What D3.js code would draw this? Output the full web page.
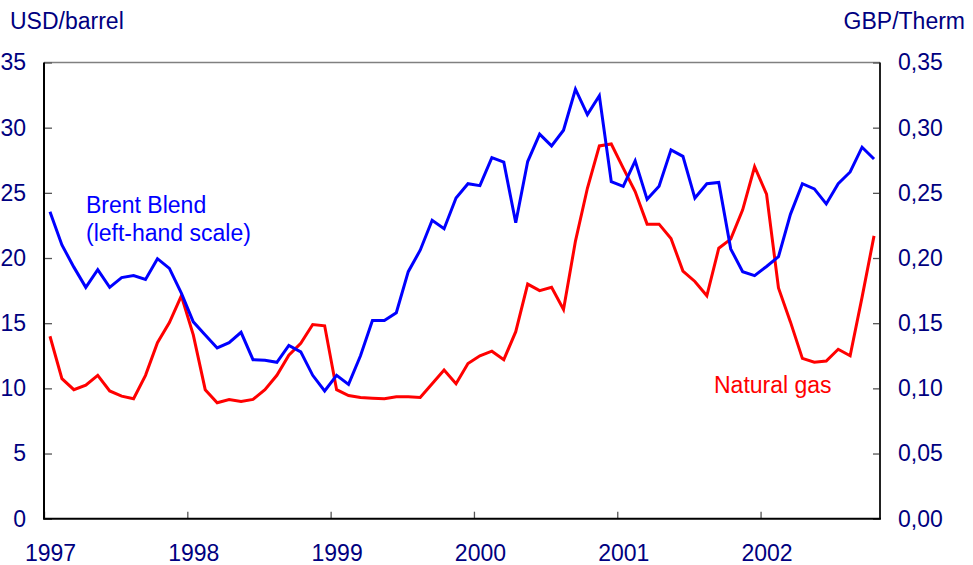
<!DOCTYPE html>
<html>
<head>
<meta charset="utf-8">
<script src="https://cdn.jsdelivr.net/npm/d3@7"></script>
<style>
  html, body { margin: 0; padding: 0; background: #fff; }
  svg { display: block; font-family: "Liberation Sans", Arial, sans-serif; }
</style>
</head>
<body>
<svg id="chart" width="973" height="565"></svg>
<script>
// Monthly averages, January 1997 – October 2002
const startYear = 1997;
const yearLabels = ["1997", "1998", "1999", "2000", "2001", "2002"];

// Brent Blend crude oil, USD per barrel (left-hand scale)
const brent = [
  23.55, 21.0, 19.3, 17.75, 19.1, 17.75, 18.5, 18.65, 18.35, 19.95, 19.2, 17.3,
  15.1, 14.1, 13.1, 13.5, 14.3, 12.2, 12.15, 12.0, 13.3, 12.8, 11.0, 9.8,
  11.0, 10.3, 12.5, 15.2, 15.2, 15.8, 18.95, 20.6, 22.9, 22.25, 24.6, 25.7,
  25.55, 27.7, 27.35, 22.7, 27.4, 29.5, 28.6, 29.8, 32.95, 31.0, 32.45, 25.85,
  25.5, 27.45, 24.5, 25.5, 28.3, 27.8, 24.6, 25.7, 25.8, 20.7, 18.95, 18.65,
  19.35, 20.1, 23.35, 25.7, 25.3, 24.15, 25.7, 26.6, 28.5, 27.6
];

// Natural gas, GBP per therm (right-hand scale)
const gas = [
  0.140, 0.1075, 0.099, 0.1025, 0.110, 0.098, 0.094, 0.092, 0.110, 0.135, 0.1505, 0.171,
  0.141, 0.099, 0.089, 0.0915, 0.090, 0.0915, 0.099, 0.110, 0.1255, 0.1345, 0.149, 0.148,
  0.099, 0.0945, 0.093, 0.0925, 0.092, 0.0935, 0.0935, 0.093, 0.1035, 0.114, 0.1035, 0.119,
  0.125, 0.1285, 0.122, 0.1435, 0.180, 0.175, 0.1775, 0.1605, 0.213, 0.2535, 0.286, 0.2875,
  0.269, 0.251, 0.226, 0.226, 0.215, 0.190, 0.182, 0.171, 0.2075, 0.2145, 0.237, 0.270,
  0.249, 0.177, 0.151, 0.123, 0.120, 0.121, 0.130, 0.125, 0.170, 0.217
];

const leftTicks = [0, 5, 10, 15, 20, 25, 30, 35];
const rightTicks = [0, 0.05, 0.10, 0.15, 0.20, 0.25, 0.30, 0.35];

const axisText = "#000080";
const fontSize = "23px";
const svg = d3.select("#chart");

const plot = { left: 44, right: 880, top: 62.5, bottom: 518.7 };
const nMonths = brent.length;

const x = d3.scaleLinear().domain([0, nMonths]).range([plot.left, plot.right]);
const yL = d3.scaleLinear().domain([0, 35]).range([plot.bottom, plot.top]);
const yR = d3.scaleLinear().domain([0, 0.35]).range([plot.bottom, plot.top]);

// Frame: grey top border, dark axes elsewhere
svg.append("line")
  .attr("x1", plot.left).attr("x2", plot.right)
  .attr("y1", plot.top).attr("y2", plot.top)
  .attr("stroke", "#808080").attr("stroke-width", 1.5);

function styleAxis(g) {
  g.select(".domain").remove();
  g.selectAll(".tick line").attr("stroke", "#555").attr("stroke-width", 1.3);
  g.selectAll(".tick text")
    .attr("fill", axisText)
    .style("font-size", fontSize)
    .style("font-family", "'Liberation Sans', Arial, sans-serif");
}

// Left axis
svg.append("g")
  .attr("transform", `translate(${plot.left},0)`)
  .call(d3.axisLeft(yL).tickValues(leftTicks).tickSize(-8).tickPadding(18))
  .call(styleAxis);

// Right axis
svg.append("g")
  .attr("transform", `translate(${plot.right},0)`)
  .call(d3.axisRight(yR).tickValues(rightTicks).tickSize(-7).tickPadding(18)
    .tickFormat(d => d3.format(".2f")(d).replace(".", ",")))
  .call(styleAxis);

// Bottom axis: tick marks at year boundaries
const yearStarts = yearLabels.map((_, k) => k * 12);
svg.append("g")
  .attr("transform", `translate(0,${plot.bottom})`)
  .call(d3.axisBottom(x).tickValues(yearStarts).tickSize(-7).tickFormat(""))
  .call(styleAxis);

// Year labels centred on each January
svg.append("g")
  .attr("transform", `translate(0,${plot.bottom})`)
  .call(d3.axisBottom(x).tickValues(yearStarts.map(v => v + 0.5)).tickSize(0).tickPadding(26)
    .tickFormat((d, i) => yearLabels[i]))
  .call(styleAxis);

// Axis lines
svg.append("line")
  .attr("x1", plot.left).attr("x2", plot.left)
  .attr("y1", plot.top).attr("y2", plot.bottom)
  .attr("stroke", "#000").attr("stroke-width", 2);
svg.append("line")
  .attr("x1", plot.right).attr("x2", plot.right)
  .attr("y1", plot.top).attr("y2", plot.bottom)
  .attr("stroke", "#222").attr("stroke-width", 2);
svg.append("line")
  .attr("x1", plot.left - 1).attr("x2", plot.right + 1)
  .attr("y1", plot.bottom).attr("y2", plot.bottom)
  .attr("stroke", "#000").attr("stroke-width", 2);

// Series lines, points at mid-month
const lineL = d3.line().x((d, i) => x(i + 0.5)).y(d => yL(d));
const lineR = d3.line().x((d, i) => x(i + 0.5)).y(d => yR(d));

svg.append("path").datum(gas)
  .attr("d", lineR)
  .attr("fill", "none").attr("stroke", "#ff0000")
  .attr("stroke-width", 3).attr("stroke-linejoin", "miter");

svg.append("path").datum(brent)
  .attr("d", lineL)
  .attr("fill", "none").attr("stroke", "#0000ff")
  .attr("stroke-width", 3).attr("stroke-linejoin", "miter");

// Unit labels
svg.append("text").attr("x", 10).attr("y", 29)
  .attr("fill", axisText).style("font-size", fontSize).text("USD/barrel");
svg.append("text").attr("x", 965).attr("y", 29).attr("text-anchor", "end")
  .attr("fill", axisText).style("font-size", fontSize).text("GBP/Therm");

// Series labels
const brentLabel = svg.append("text").attr("fill", "#0000ff").style("font-size", fontSize);
brentLabel.append("tspan").attr("x", 86).attr("y", 213).text("Brent Blend");
brentLabel.append("tspan").attr("x", 86).attr("y", 241).text("(left-hand scale)");

svg.append("text").attr("x", 714).attr("y", 393)
  .attr("fill", "#ff0000").style("font-size", fontSize).text("Natural gas");
</script>
</body>
</html>
